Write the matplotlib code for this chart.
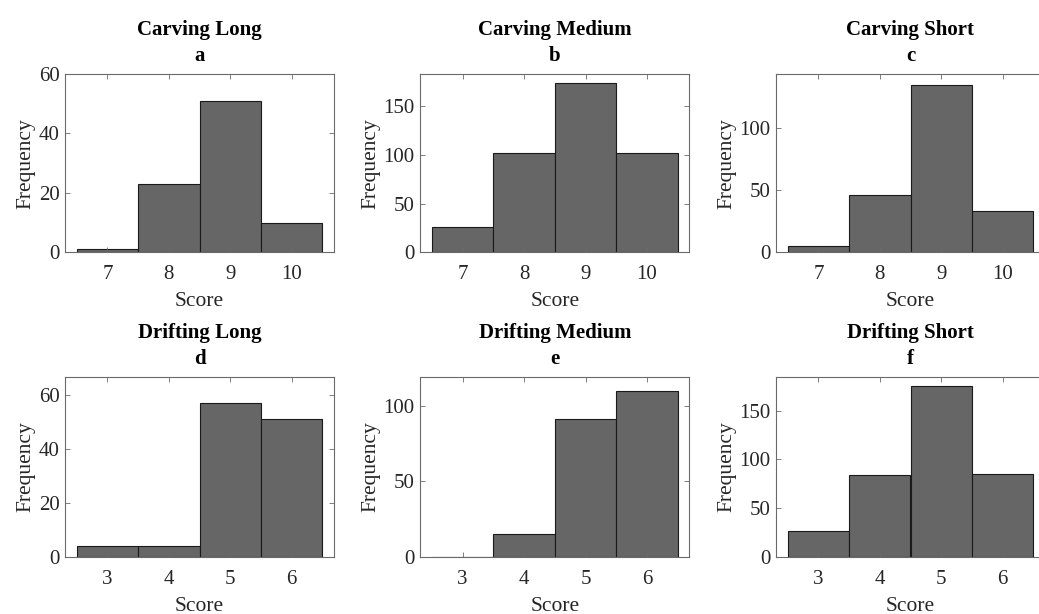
import matplotlib
matplotlib.use("Agg")
import matplotlib.pyplot as plt

plt.rcParams['font.family'] = ['Liberation Serif', 'DejaVu Serif']

scores_carving = [7, 8, 9, 10]
scores_drifting = [3, 4, 5, 6]

carving_long = [1, 23, 51, 10]
carving_medium = [26, 102, 174, 102]
carving_short = [5, 46, 134, 33]
drifting_long = [4, 4, 57, 51]
drifting_medium = [0, 15, 91, 110]
drifting_short = [26, 84, 175, 85]

titles = ["Carving Long", "Carving Medium", "Carving Short",
          "Drifting Long", "Drifting Medium", "Drifting Short"]
letters = ["a", "b", "c", "d", "e", "f"]
series = [carving_long, carving_medium, carving_short,
          drifting_long, drifting_medium, drifting_short]
xvals = [scores_carving] * 3 + [scores_drifting] * 3
ymax = [60, 182.8, 143, 66.6, 118.8, 184.2]
yticks = [[0, 20, 40, 60], [0, 50, 100, 150], [0, 50, 100],
          [0, 20, 40, 60], [0, 50, 100], [0, 50, 100, 150]]

W, H = 1039, 614
fig = plt.figure(figsize=(W / 100, H / 100), dpi=100)

lefts = [65, 420.3, 776]
width_px = 269
rows = [(74, 252.3), (377.3, 556.7)]

text_col = '#262626'
spine_col = '#6a6a6a'

for i in range(6):
    r, c = divmod(i, 3)
    top, bot = rows[r]
    ax = fig.add_axes([lefts[c] / W, 1 - bot / H, width_px / W, (bot - top) / H])
    xs = xvals[i]
    ax.bar(xs, series[i], width=1.0, color='#666666', edgecolor='#1a1a1a',
           linewidth=0.8, align='center')
    ax.set_xlim(xs[0] - 0.69, xs[-1] + 0.69)
    ax.set_ylim(0, ymax[i])
    ax.set_xticks(xs)
    ax.set_yticks(yticks[i])
    ax.tick_params(direction='in', length=3.5, width=0.6, colors=spine_col,
                   labelcolor=text_col, labelsize=15, top=True, right=True)
    ax.tick_params(axis='x', pad=9.5)
    ax.tick_params(axis='y', pad=4)
    for s in ax.spines.values():
        s.set_color(spine_col)
        s.set_linewidth(0.8)
    ax.set_xlabel("Score", fontsize=15.5, color=text_col, labelpad=5.5)
    ax.set_ylabel("Frequency", fontsize=15.5, color=text_col, labelpad=2)
    ax.set_title(titles[i] + "\n" + letters[i], fontsize=15, fontweight='bold',
                 color='black', pad=9.5, linespacing=1.42)

fig.savefig("out.png", dpi=100)
